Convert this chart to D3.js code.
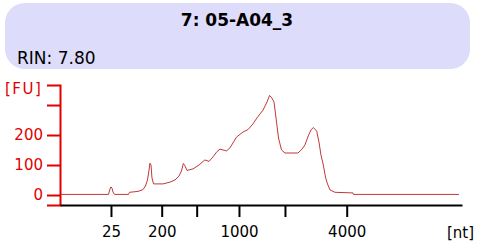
<!DOCTYPE html>
<html>
<head>
<meta charset="utf-8">
<script src="https://cdn.jsdelivr.net/npm/d3@7"></script>
<style>
  body { margin: 0; background: #fff; }
  text { font-family: "DejaVu Sans", sans-serif; }
</style>
</head>
<body>
<div id="chart"></div>
<script>
const sampleTitle = "7: 05-A04_3";
const rinText = "RIN: 7.80";

// ladder: migration time (s) of each size marker on the x axis
const ladderNt = [25, 200, 500, 1000, 2000, 4000];
const ladderTime = [25.34, 31.65, 36.0, 41.26, 46.98, 54.66];
const ladderLabels = ["25", "200", "", "1000", "", "4000"];

const fuTicks = [0, 100, 200, 300];
const fuLabels = ["0", "100", "200", ""];

// electropherogram trace
const timeS = [19.12, 25.03, 25.22, 25.34, 25.47, 25.59, 25.78, 27.52, 27.64, 28.70,
  29.32, 29.63, 29.88, 30.07, 30.19, 30.32, 30.44, 30.63, 31.81, 32.68,
  33.30, 33.80, 34.11, 34.34, 34.55, 34.80, 35.54, 36.29, 37.03, 37.53,
  38.03, 38.53, 38.90, 39.71, 40.14, 40.95, 41.76, 42.38, 43.00, 43.50,
  44.25, 44.75, 45.06, 45.37, 45.62, 45.93, 46.18, 46.55, 46.98, 48.60,
  49.10, 49.47, 49.88, 50.22, 50.51, 50.93, 51.21, 51.46, 51.75, 52.02,
  52.27, 52.58, 53.20, 55.44, 55.50, 68.63];
const fluor = [2, 2, 20, 27, 23, 10, 2, 2, 9, 12,
  18, 30, 50, 83, 106, 100, 57, 37, 37, 43,
  50, 63, 80, 105, 97, 82, 87, 100, 117, 112,
  127, 145, 153, 147, 157, 193, 210, 218, 237, 257,
  283, 310, 332, 323, 310, 243, 190, 150, 140, 140,
  153, 167, 197, 217, 225, 213, 177, 133, 100, 60,
  37, 17, 9, 7, 2, 2];

const width = 478, height = 245;
const svg = d3.select("#chart").append("svg")
  .attr("width", width)
  .attr("height", height);

// header box
svg.append("rect")
  .attr("x", 5).attr("y", 3)
  .attr("width", 465).attr("height", 66)
  .attr("rx", 20).attr("ry", 20)
  .attr("fill", "#dddcfb");

svg.append("text")
  .attr("x", 237).attr("y", 26)
  .attr("text-anchor", "middle")
  .attr("font-size", 17)
  .attr("font-weight", "bold")
  .attr("fill", "#000")
  .text(sampleTitle);

svg.append("text")
  .attr("x", 17).attr("y", 64)
  .attr("font-size", 17)
  .attr("fill", "#000")
  .text(rinText);

const x = d3.scaleLinear().domain([19, 69]).range([60, 462]);
const y = d3.scaleLinear().domain([-33.3, 366.7]).range([205, 85]);

// y axis (red)
const yAxis = svg.append("g")
  .attr("transform", "translate(60,0)")
  .call(d3.axisLeft(y)
    .tickValues(fuTicks)
    .tickSize(13)
    .tickPadding(4)
    .tickFormat((d, i) => fuLabels[i]));
yAxis.select(".domain").attr("stroke", "#e00000").attr("stroke-width", 2);
yAxis.selectAll(".tick line").attr("stroke", "#e00000").attr("stroke-width", 2);
yAxis.selectAll(".tick text")
  .attr("fill", "#e00000")
  .attr("font-size", 15)
  .attr("font-family", "DejaVu Sans, sans-serif");

svg.append("text")
  .attr("x", 5).attr("y", 94)
  .attr("font-size", 15)
  .attr("letter-spacing", 1.5)
  .attr("fill", "#e00000")
  .text("[FU]");

// x axis (black)
const xAxis = svg.append("g")
  .attr("transform", "translate(0,205)")
  .call(d3.axisBottom(x)
    .tickValues(ladderTime)
    .tickSize(12)
    .tickSizeOuter(0)
    .tickPadding(9)
    .tickFormat((d, i) => ladderLabels[i]));
xAxis.select(".domain").attr("stroke", "#000").attr("stroke-width", 2);
xAxis.selectAll(".tick line").attr("stroke", "#000").attr("stroke-width", 2);
xAxis.selectAll(".tick text")
  .attr("fill", "#000")
  .attr("font-size", 15)
  .attr("font-family", "DejaVu Sans, sans-serif");

svg.append("text")
  .attr("x", 447).attr("y", 238)
  .attr("font-size", 15)
  .attr("fill", "#000")
  .text("[nt]");

// trace
const pts = timeS.map((t, i) => [t, fluor[i]]);
svg.append("path")
  .datum(pts)
  .attr("fill", "none")
  .attr("stroke", "#c0393b")
  .attr("stroke-width", 1)
  .attr("d", d3.line()
    .x(d => x(d[0]))
    .y(d => y(d[1])));
</script>
</body>
</html>
